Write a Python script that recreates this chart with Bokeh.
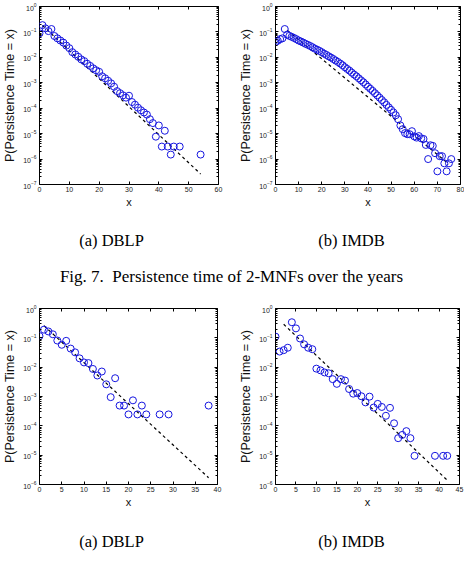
from bokeh.plotting import figure
from bokeh.layouts import column, row
from bokeh.models import (FixedTicker, LinearAxis, LogAxis, Range1d,
                          CustomJSTickFormatter, Label)
from bokeh.embed import file_html
from bokeh.resources import INLINE

# ---- data: persistence time distributions --------------------------------
# 2-MNFs, DBLP
dblp2_x = list(range(0, 39)) + [39, 40, 41, 42, 43, 44, 45, 47, 54]
dblp2_y = [0.088, 0.185, 0.138, 0.108, 0.13, 0.069, 0.056, 0.046, 0.038, 0.029,
           0.023, 0.016, 0.013, 0.0105, 0.0083, 0.0071, 0.0056, 0.0046, 0.0037, 0.0031,
           0.0027, 0.0018, 0.0015, 0.0012, 0.00095, 0.0007, 0.00047, 0.00039, 0.00032, 0.00026,
           0.00031, 0.000175, 0.000138, 0.000105, 0.000083, 0.000068, 0.000056, 0.000037, 0.000026,
           7.6e-6, 2.1e-5, 3.1e-6, 1.3e-5, 3.1e-6, 1.5e-6, 3.1e-6, 3.1e-6, 1.5e-6]
dblp2_fit_x = [1, 54]
dblp2_fit_y = [0.18, 2.6e-7]

# 2-MNFs, IMDB
imdb2_x = list(range(0, 77))
imdb2_y = [0.040, 0.045, 0.052, 0.056, 0.13, 0.078, 0.070, 0.064, 0.058, 0.052,
           0.046, 0.042, 0.038, 0.034, 0.031, 0.028, 0.025, 0.022, 0.020, 0.018,
           0.016, 0.014, 0.0125, 0.011, 0.0098, 0.0086, 0.0075, 0.0066, 0.0057, 0.0049,
           0.0041, 0.0035, 0.0030, 0.0025, 0.0021, 0.0018, 0.0015, 0.00125, 0.00105, 0.00086,
           0.0007, 0.00058, 0.00048, 0.00039, 0.00032, 0.00026, 0.00021, 0.00017, 0.000135, 0.000108,
           8.6e-5, 6.8e-5, 5.3e-5, 3.7e-5, 2.1e-5, 1.5e-5, 1.05e-5, 9.5e-6, 9.5e-6, 1.25e-5,
           7.8e-6, 7.0e-6, 8.0e-6, 6.5e-6, 6.2e-6, 3.6e-6, 1.0e-6, 3.5e-6, 3.3e-6, 1.7e-6,
           3.3e-7, 1.3e-6, 1.3e-6, 6.8e-7, 3.3e-7, 6.8e-7, 1.0e-6]
imdb2_fit_x = [5, 75]
imdb2_fit_y = [0.118, 6.3e-7]

# 3-MNFs, DBLP
dblp3_x = list(range(0, 25)) + [27, 29, 38]
dblp3_y = [0.115, 0.19, 0.165, 0.132, 0.081, 0.058, 0.079, 0.043, 0.032, 0.020,
           0.0145, 0.0138, 0.0087, 0.0052, 0.0071, 0.0026, 0.00095, 0.0042, 0.00049, 0.00049,
           0.000245, 0.00074, 0.000245, 0.00049, 0.000245, 0.000245, 0.000245, 0.00049]
dblp3_fit_x = [1, 38]
dblp3_fit_y = [0.26, 1.7e-6]

# 3-MNFs, IMDB
imdb3_x = list(range(0, 35)) + [39, 41, 42]
imdb3_y = [0.11, 0.034, 0.038, 0.046, 0.34, 0.21, 0.095, 0.060, 0.046, 0.041,
           0.0089, 0.0078, 0.0066, 0.0062, 0.0039, 0.0027, 0.0039, 0.0035, 0.0018, 0.00125,
           0.00131, 0.00102, 0.00063, 0.00099, 0.00042, 0.00056, 0.00044, 0.00022, 0.00041, 0.000122,
           3.8e-5, 4.9e-5, 6.6e-5, 3.8e-5, 9.5e-6, 9.5e-6, 9.5e-6, 9.5e-6]
imdb3_fit_x = [2, 42]
imdb3_fit_y = [0.29, 1.4e-6]

Y_LABEL = "P(Persistence Time = x)"
SANS = "Liberation Sans"
SERIF = "Liberation Serif"
MARK = "#1515e0"
NBSP = "\u00a0"


def decade_ticks(lo, hi):
    major = [10.0 ** e for e in range(lo, hi + 1)]
    minor = [m * 10.0 ** e for e in range(lo, hi) for m in range(2, 10)]
    return major, minor


def panel(xs, ys, fx, fy, x_end, x_step, y_lo, bl, br, bt, bb):
    major, minor = decade_ticks(y_lo, 0)
    xt = list(range(0, x_end + 1, x_step))
    p = figure(width=232, height=210, y_axis_type="log",
               x_range=Range1d(0, x_end), y_range=Range1d(10.0 ** y_lo, 1.0),
               output_backend="svg", toolbar_location=None,
               min_border_left=bl, min_border_right=br,
               min_border_top=bt, min_border_bottom=bb,
               background_fill_color="white", border_fill_color="white")
    p.grid.visible = False
    p.outline_line_color = "black"
    p.outline_line_width = 1

    blank = CustomJSTickFormatter(code="return ''")

    xa = p.xaxis[0]
    xa.ticker = FixedTicker(ticks=xt)
    xa.axis_label = "x"
    ya = p.yaxis[0]
    ya.ticker = FixedTicker(ticks=major, minor_ticks=minor)
    ya.axis_label = Y_LABEL

    top = LinearAxis(ticker=FixedTicker(ticks=xt), formatter=blank)
    right = LogAxis(ticker=FixedTicker(ticks=major, minor_ticks=minor), formatter=blank)
    p.add_layout(top, "above")
    p.add_layout(right, "right")

    for ax in (xa, ya, top, right):
        ax.axis_line_color = None
        ax.major_tick_in = 3
        ax.major_tick_out = 0
        ax.minor_tick_in = 0
        ax.minor_tick_out = 0
        ax.major_tick_line_color = "black"
        ax.major_label_text_font = SANS
        ax.major_label_text_font_size = "7px"
        ax.major_label_text_color = "#222222"
        ax.axis_label_text_font = SANS
        ax.axis_label_text_font_style = "normal"
        ax.axis_label_text_color = "#111111"
    for ax in (ya, right):
        ax.minor_tick_in = 2
        ax.minor_tick_line_color = "black"
    xa.major_label_standoff = 2
    xa.axis_label_standoff = 1
    xa.axis_label_text_font_size = "11px"
    ya.major_label_standoff = 3
    ya.axis_label_standoff = 3
    ya.axis_label_text_font_size = "12.5px"
    top.major_label_standoff = 0
    right.major_label_standoff = 0

    p.line(fx, fy, line_color="black", line_dash="3 3", line_width=1.2)
    p.scatter(xs, ys, marker="circle", size=7, fill_color=None,
              line_color=MARK, line_width=1)
    return p


def caption_strip(height, items):
    c = figure(width=464, height=height, x_range=Range1d(0, 464),
               y_range=Range1d(height, 0), output_backend="svg",
               toolbar_location=None, min_border=0)
    c.axis.visible = False
    c.grid.visible = False
    c.outline_line_color = None
    for x, y, txt, size in items:
        c.add_layout(Label(x=x, y=y, text=txt, text_font=SERIF,
                           text_font_size=size, text_align="center",
                           text_baseline="middle", text_color="black"))
    return c


p1 = panel(dblp2_x, dblp2_y, dblp2_fit_x, dblp2_fit_y, 60, 10, -7, 35, 14, 6, 23)
p2 = panel(imdb2_x, imdb2_y, imdb2_fit_x, imdb2_fit_y, 80, 10, -7, 43, 4, 6, 23)
p3 = panel(dblp3_x, dblp3_y, dblp3_fit_x, dblp3_fit_y, 40, 5, -6, 35, 15, 8, 21)
p4 = panel(imdb3_x, imdb3_y, imdb3_fit_x, imdb3_fit_y, 45, 5, -6, 43, 5, 8, 21)

fig_caption = "Fig. 7." + NBSP + " Persistence time of 2-MNFs over the years"
cap1 = caption_strip(90, [(111, 30, "(a) DBLP", "16.5px"),
                          (351, 30, "(b) IMDB", "16.5px"),
                          (231, 66, fig_caption, "17px")])
cap2 = caption_strip(54, [(111, 31, "(a) DBLP", "16.5px"),
                          (351, 31, "(b) IMDB", "16.5px")])

layout = column(row(p1, p2), cap1, row(p3, p4), cap2)

open("out.html", "w").write(file_html(layout, INLINE))
